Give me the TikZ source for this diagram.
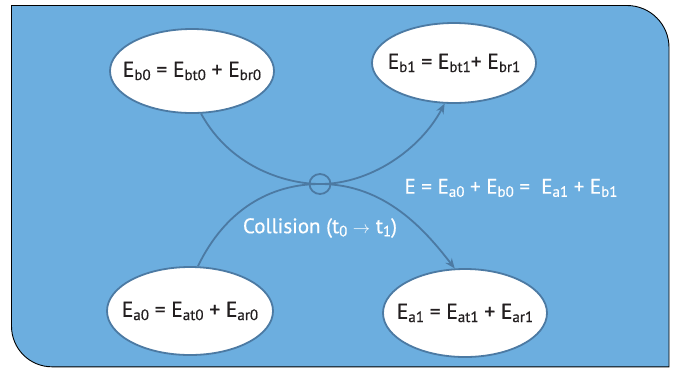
\documentclass[tikz,border=0pt]{standalone}
\usepackage{fontspec}
\setmainfont[FakeBold=0.5]{PT Sans}
\usetikzlibrary{arrows.meta,shapes.geometric}
\definecolor{bg}{HTML}{6CAEDF}
\definecolor{ln}{HTML}{4C7AA3}
\definecolor{tx}{HTML}{231F20}
\newcommand\sbs[1]{\raisebox{-0.3ex}{\fontsize{15}{15}\selectfont #1}}
\tikzset{
  state/.style={ellipse, draw=ln, line width=1.8pt, fill=white, minimum width=164pt, minimum height=84pt, inner sep=0pt},
  stxt/.style={text=tx, font=\fontsize{21.5}{23}\selectfont, inner sep=0pt},
  flow/.style={draw=ln, line width=1.8pt},
  arr/.style={-{Stealth[length=10pt,width=8pt]}},
  lbl/.style={text=white, font=\fontsize{21}{23}\selectfont}
}
\begin{document}
\begin{tikzpicture}[x=1pt,y=-1pt]
\useasboundingbox (0,0) rectangle (676,368);
\draw[fill=bg, draw=black, line width=0.9pt] (11.5,5.5) -- (627,5.5) .. controls (650.2,5.5) and (669,24.3) .. (669,47.5) -- (669,366.8) -- (52,366.8) .. controls (29.6,366.8) and (11.5,348.7) .. (11.5,326) -- cycle;
\node[state] (b0) at (192,71) {};
\node[stxt] (b0t) at (b0) {E\sbs{b0} = E\sbs{bt0} + E\sbs{br0}};
\node[state, minimum height=80pt] (b1) at (454,63) {};
\node[stxt] (b1t) at (b1) {E\sbs{b1} = E\sbs{bt1}+ E\sbs{br1}};
\node[state, minimum height=88pt, minimum width=166pt] (a0) at (190,311) {};
\node[stxt] (a0t) at (a0) {E\sbs{a0} = E\sbs{at0} + E\sbs{ar0}};
\node[state, minimum height=88pt] (a1) at (465,313) {};
\node[stxt] (a1t) at (a1) {E\sbs{a1} = E\sbs{at1} + E\sbs{ar1}};
\node[draw=ln, line width=1.8pt, ellipse, minimum width=21pt, minimum height=20pt, inner sep=0pt] (c) at (320,184) {};
\coordinate (cp) at (320,184);
\draw[flow, arr] (b0.-78) .. controls (232,170) and (290,184) .. (cp) .. controls (370,184) and (420,150) .. (b1.-103);
\draw[flow, arr] (a0.80) .. controls (225,210) and (270,184) .. (cp) .. controls (385,184) and (425,230) .. (a1.103);
\node[lbl] (col) at (320,228) {Collision (t\sbs{0} {\fontsize{17}{17}\selectfont$\rightarrow$} t\sbs{1})};
\node[lbl] (eq) at (511,188) {E = E\sbs{a0} + E\sbs{b0} = \ E\sbs{a1} + E\sbs{b1}};
\end{tikzpicture}
\end{document}
